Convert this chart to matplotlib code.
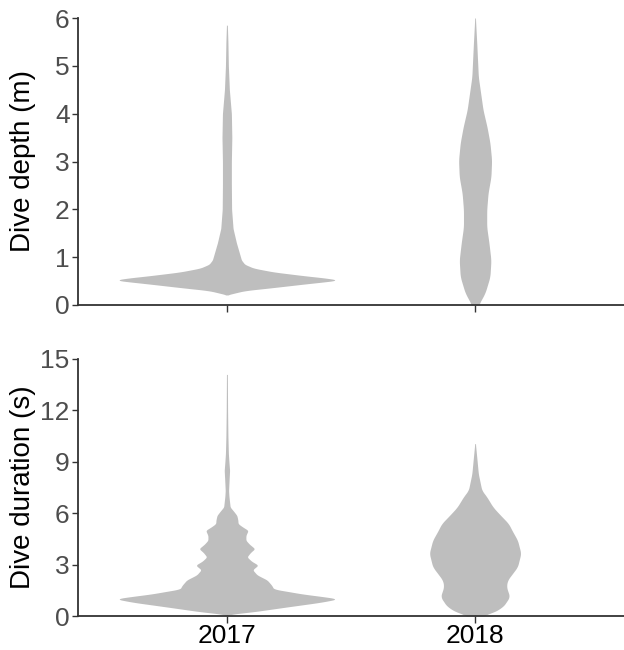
import numpy as np
import matplotlib
matplotlib.use("Agg")
import matplotlib.pyplot as plt

plt.rcParams['font.family'] = ['Liberation Sans', 'DejaVu Sans']

years = ["2017", "2018"]

# Violin profiles: value levels and relative density width (max = 1)
depth_2017_y = [0.21, 0.25, 0.30, 0.36, 0.44, 0.49, 0.52, 0.56, 0.61, 0.69, 0.77, 0.85, 0.94,
                1.1, 1.3, 1.6, 2.0, 2.5, 3.0, 3.5, 4.0, 4.5, 5.0, 5.5, 5.85]
depth_2017_w = [0.0, 0.07, 0.16, 0.40, 0.70, 0.90, 1.0, 0.90, 0.70, 0.42, 0.24, 0.16, 0.13,
                0.11, 0.085, 0.055, 0.042, 0.04, 0.04, 0.044, 0.04, 0.022, 0.013, 0.009, 0.004]

depth_2018_y = [0.0, 0.25, 0.59, 0.94, 1.30, 1.63, 1.99, 2.34, 2.68, 3.03, 3.39, 3.72, 4.08,
                4.77, 5.47, 6.0]
depth_2018_w = [0.03, 0.089, 0.133, 0.142, 0.124, 0.104, 0.104, 0.116, 0.142, 0.148, 0.133,
                0.107, 0.071, 0.029, 0.015, 0.003]

dur_2017_y = [0.02, 0.1, 0.25, 0.52, 0.8, 1.0, 1.15, 1.28, 1.45, 1.57, 1.8, 2.1, 2.4, 2.7, 2.97,
              3.2, 3.45, 3.7, 3.93, 4.2, 4.42, 4.7, 5.0, 5.2, 5.39, 5.6, 5.87, 6.1, 6.36, 7.0,
              7.33, 8.0, 8.5, 9.0, 9.5, 10.5, 12.0, 14.1]
dur_2017_w = [0.0, 0.027, 0.24, 0.53, 0.84, 1.0, 0.84, 0.68, 0.53, 0.42, 0.40, 0.36, 0.27, 0.23,
              0.28, 0.22, 0.18, 0.21, 0.25, 0.20, 0.17, 0.17, 0.19, 0.14, 0.10, 0.098, 0.089,
              0.062, 0.029, 0.018, 0.015, 0.02, 0.024, 0.018, 0.013, 0.009, 0.006, 0.004]

dur_2018_y = [0.0, 0.16, 0.54, 1.12, 1.71, 2.09, 2.87, 3.66, 4.42, 5.0, 5.39, 6.0, 6.36, 7.0,
              7.33, 8.3, 9.26, 10.06]
dur_2018_w = [0.05, 0.15, 0.25, 0.31, 0.28, 0.29, 0.38, 0.41, 0.38, 0.33, 0.30, 0.21, 0.16,
              0.10, 0.06, 0.029, 0.015, 0.003]

depth_ticks = [0, 1, 2, 3, 4, 5, 6]
dur_ticks = [0, 3, 6, 9, 12, 15]

FILL = "#BEBEBE"
AXC = "#333333"
HALF = 0.45


def smooth_profile(y, w, k):
    y = np.asarray(y, float)
    w = np.asarray(w, float)
    yy = np.linspace(y[0], y[-1], 800)
    ww = np.interp(yy, y, w)
    ker = np.ones(k) / k
    pad = np.concatenate([np.full(k // 2, ww[0]), ww, np.full(k // 2, ww[-1])])
    ws = np.convolve(pad, ker, mode="valid")
    return yy, ws


def violin(ax, pos, y, w, k=9):
    yy, ww = smooth_profile(y, w, k)
    ax.fill_betweenx(yy, pos - HALF * ww, pos + HALF * ww, color=FILL, lw=0)


def style(ax, ylim, ticks, ylabel, show_x):
    ax.set_xlim(0.4, 2.6)
    ax.set_ylim(*ylim)
    ax.set_yticks(ticks)
    ax.set_xticks([1, 2])
    ax.set_xticklabels(years if show_x else ["", ""])
    for s in ["top", "right"]:
        ax.spines[s].set_visible(False)
    for s in ["left", "bottom"]:
        ax.spines[s].set_color(AXC)
        ax.spines[s].set_linewidth(1.3)
    ax.tick_params(axis="y", length=4, width=1.0, color=AXC, labelsize=19,
                   labelcolor="#4D4D4D", pad=2)
    ax.tick_params(axis="x", length=5, width=1.0, color=AXC, labelsize=19,
                   labelcolor="black", pad=1)
    ax.set_ylabel(ylabel, fontsize=20, color="black")
    ax.yaxis.label.set_verticalalignment("center")
    ax.yaxis.set_label_coords((23 - 78) / 546, 0.5)


fig = plt.figure(figsize=(6.24, 6.5), dpi=100)
ax1 = fig.add_axes([78 / 624, 1 - 305 / 650, 546 / 624, 287 / 650])
ax2 = fig.add_axes([78 / 624, 1 - 616 / 650, 546 / 624, 257 / 650])

violin(ax1, 1, depth_2017_y, depth_2017_w, 7)
violin(ax1, 2, depth_2018_y, depth_2018_w, 25)
violin(ax2, 1, dur_2017_y, dur_2017_w, 9)
violin(ax2, 2, dur_2018_y, dur_2018_w, 31)

style(ax1, (0, 6), depth_ticks, "Dive depth (m)", False)
style(ax2, (0, 15), dur_ticks, "Dive duration (s)", True)

fig.savefig("out.png", dpi=100)
